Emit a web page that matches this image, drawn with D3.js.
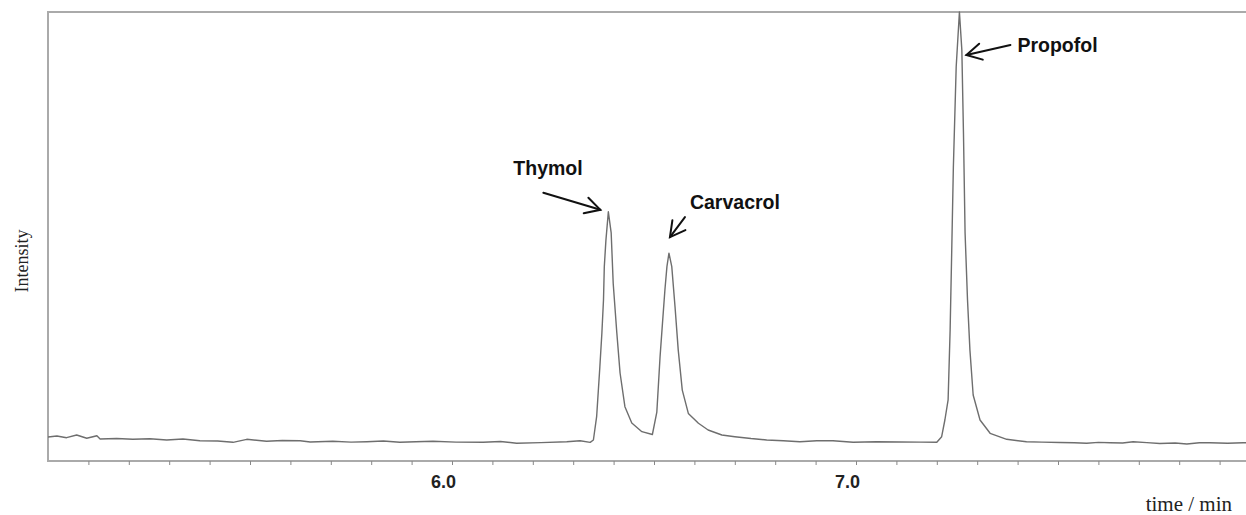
<!DOCTYPE html>
<html>
<head>
<meta charset="utf-8">
<script src="https://cdn.jsdelivr.net/npm/d3@7"></script>
<style>
  body { margin: 0; background: #fff; }
  svg { display: block; }
</style>
</head>
<body>
<div id="chart"></div>
<script>
// chromatogram trace (time in min, intensity in arbitrary units)
var timeMin = [5.000, 5.022, 5.046, 5.071, 5.096, 5.121, 5.129, 5.170, 5.210, 5.252,
  5.294, 5.334, 5.376, 5.420, 5.458, 5.492, 5.541, 5.580, 5.624, 5.649,
  5.705, 5.750, 5.789, 5.830, 5.871, 5.910, 5.953, 6.010, 6.077, 6.120,
  6.160, 6.220, 6.284, 6.317, 6.342, 6.350, 6.358, 6.366, 6.371, 6.375,
  6.377, 6.381, 6.387, 6.394, 6.399, 6.408, 6.416, 6.428, 6.445, 6.470,
  6.496, 6.507, 6.515, 6.521, 6.527, 6.532, 6.537, 6.544, 6.552, 6.560,
  6.570, 6.585, 6.610, 6.634, 6.668, 6.700, 6.740, 6.779, 6.820, 6.861,
  6.903, 6.943, 6.993, 7.050, 7.109, 7.160, 7.200, 7.212, 7.220, 7.228,
  7.233, 7.237, 7.241, 7.248, 7.256, 7.262, 7.266, 7.270, 7.276, 7.282,
  7.290, 7.307, 7.332, 7.373, 7.422, 7.460, 7.505, 7.540, 7.571, 7.600,
  7.629, 7.660, 7.686, 7.720, 7.752, 7.790, 7.819, 7.850, 7.876, 7.920,
  7.958, 8.000];
var intensity = [5.35, 5.57, 5.19, 5.79, 5.06, 5.63, 4.90, 5.00, 4.83, 4.97,
  4.68, 4.90, 4.52, 4.45, 4.16, 4.83, 4.39, 4.55, 4.52, 4.23,
  4.39, 4.20, 4.30, 4.45, 4.16, 4.30, 4.39, 4.20, 4.16, 4.35,
  3.94, 4.10, 4.30, 4.52, 4.16, 4.68, 9.87, 21.0, 28.5, 35.9,
  43.3, 49.2, 55.5, 50.8, 39.6, 28.5, 19.6, 12.1, 8.46, 6.53,
  5.90, 10.9, 23.2, 30.7, 38.1, 43.3, 46.3, 43.3, 34.4, 24.7,
  15.8, 10.6, 8.40, 6.90, 5.79, 5.41, 5.00, 4.68, 4.50, 4.30,
  4.52, 4.52, 4.16, 4.30, 4.23, 4.20, 4.16, 5.41, 9.13, 13.6,
  29.2, 47.0, 65.5, 87.8, 100, 91.5, 73.1, 50.8, 35.9, 24.7,
  14.7, 9.13, 6.17, 4.83, 4.30, 4.20, 4.12, 4.05, 3.94, 4.15,
  4.08, 4.00, 4.30, 4.10, 3.90, 4.00, 3.79, 4.05, 4.08, 3.95,
  4.08, 4.00];

// labelled peaks
var peakNames = ["Thymol", "Carvacrol", "Propofol"];
var peakTimes = [6.387, 6.537, 7.256];
var peakHeights = [55.5, 46.3, 100];

var tickLabels = ["6.0", "7.0"];

var W = 1246, H = 515;
var plotLeft = 48, plotTop = 12, plotBottom = 461;

var svg = d3.select("#chart").append("svg")
  .attr("width", W).attr("height", H);

var x = d3.scaleLinear().domain([5.0, 8.0]).range([plotLeft, plotLeft + 1212]);
var y = d3.scaleLinear().domain([0, 100]).range([plotBottom, plotTop]);

// frame (right side runs off the picture)
svg.append("path")
  .attr("d", "M" + W + "," + plotTop + "H" + plotLeft + "V" + plotBottom + "H" + W)
  .attr("fill", "none").attr("stroke", "#aaa").attr("stroke-width", 2);

// minor ticks every 0.1 min, labels only on whole minutes
var xAxis = d3.axisBottom(x)
  .tickValues(d3.range(51, 80).map(function(d) { return d / 10; }))
  .tickSize(4)
  .tickFormat(function(d) {
    var s = d.toFixed(1);
    return tickLabels.indexOf(s) >= 0 ? s : "";
  });

var gx = svg.append("g")
  .attr("transform", "translate(0," + plotBottom + ")")
  .call(xAxis);
gx.select(".domain").remove();
gx.selectAll(".tick line").attr("stroke", "#888");
gx.selectAll(".tick text")
  .attr("dx", -9).attr("y", 14).attr("dy", "0.71em")
  .attr("fill", "#222")
  .style("font", "bold 18px 'Liberation Sans', Arial, sans-serif");

svg.append("clipPath").attr("id", "plot")
  .append("rect").attr("x", plotLeft).attr("y", 0)
  .attr("width", W - plotLeft).attr("height", plotBottom);

var pts = timeMin.map(function(t, i) { return [t, intensity[i]]; });
var line = d3.line().x(function(d) { return x(d[0]); }).y(function(d) { return y(d[1]); });

svg.append("path")
  .datum(pts)
  .attr("clip-path", "url(#plot)")
  .attr("d", line)
  .attr("fill", "none")
  .attr("stroke", "#6e6e6e")
  .attr("stroke-width", 1.4)
  .attr("stroke-linejoin", "round");

// annotations: offsets from the peak top for arrow tail, tip and text
var notes = [
  { tail: [-65, -19], tip: [-8, -2], text: [-95, -37] },
  { tail: [16, -36], tip: [1, -16], text: [21, -44] },
  { tail: [51, 33], tip: [7, 43], text: [58, 40] }
];

peakNames.forEach(function(name, i) {
  var px = x(peakTimes[i]), py = y(peakHeights[i]), n = notes[i];
  var x1 = px + n.tail[0], y1 = py + n.tail[1];
  var x2 = px + n.tip[0], y2 = py + n.tip[1];
  var a = Math.atan2(y2 - y1, x2 - x1), len = 17, spread = 0.5;
  var g = svg.append("g").attr("stroke", "#111").attr("stroke-width", 2)
    .attr("fill", "none").attr("stroke-linecap", "round");
  g.append("line").attr("x1", x1).attr("y1", y1).attr("x2", x2).attr("y2", y2);
  g.append("path").attr("d",
    "M" + (x2 - len * Math.cos(a - spread)) + "," + (y2 - len * Math.sin(a - spread)) +
    "L" + x2 + "," + y2 +
    "L" + (x2 - len * Math.cos(a + spread)) + "," + (y2 - len * Math.sin(a + spread)));
  svg.append("text")
    .attr("x", px + n.text[0]).attr("y", py + n.text[1])
    .attr("fill", "#111")
    .style("font", "bold 19.5px 'Liberation Sans', Arial, sans-serif")
    .text(name);
});

svg.append("text")
  .attr("transform", "translate(28,261) rotate(-90)")
  .attr("text-anchor", "middle")
  .attr("fill", "#222")
  .style("font", "18px 'Liberation Serif', 'Times New Roman', serif")
  .text("Intensity");

svg.append("text")
  .attr("x", 1232).attr("y", 511)
  .attr("text-anchor", "end")
  .attr("fill", "#222")
  .style("font", "21px 'Liberation Serif', 'Times New Roman', serif")
  .text("time / min");
</script>
</body>
</html>
